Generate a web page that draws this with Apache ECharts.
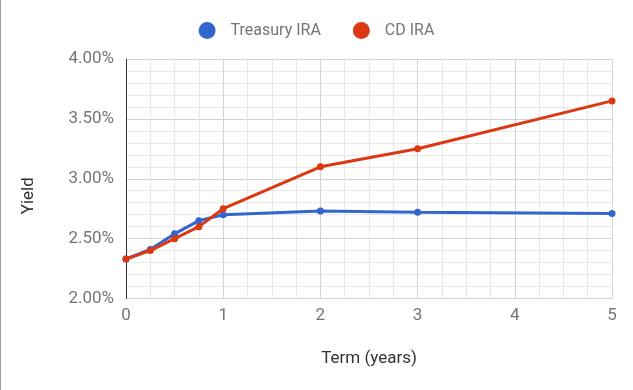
<!DOCTYPE html>
<html>
<head>
<meta charset="utf-8">
<script src="https://cdn.jsdelivr.net/npm/echarts@6/dist/echarts.min.js"></script>
<style>
html,body{margin:0;padding:0;background:#fff;}
#chart{width:633px;height:390px;}
</style>
</head>
<body>
<div id="chart"></div>
<script>
var terms = [0, 0.25, 0.5, 0.75, 1, 2, 3, 5];
var treasuryIRA = [2.33, 2.41, 2.54, 2.65, 2.70, 2.73, 2.72, 2.71];
var cdIRA = [2.33, 2.40, 2.50, 2.60, 2.75, 3.10, 3.25, 3.65];
var seriesNames = ['Treasury IRA', 'CD IRA'];
var xTitle = 'Term (years)';
var yTitle = 'Yield';

function pairs(xs, ys) { return xs.map(function (x, i) { return [x, ys[i]]; }); }

var chart = echarts.init(document.getElementById('chart'), null, {renderer: 'canvas'});
var font = 'Roboto, "Noto Sans", sans-serif';
chart.setOption({
  animation: false,
  color: ['#3366cc', '#dc3912'],
  textStyle: {fontFamily: font},
  graphic: [{
    type: 'line', shape: {x1: 0.5, y1: 0, x2: 0.5, y2: 390},
    style: {stroke: '#9e9e9e', lineWidth: 1}, silent: true
  }],
  legend: {
    top: 17, left: 'center',
    icon: 'circle', itemWidth: 17, itemHeight: 17, itemGap: 32,
    textStyle: {fontSize: 16, color: '#757575', fontFamily: font, padding: [0, 0, 0, 10]},
    data: seriesNames
  },
  grid: {left: 126, right: 21, top: 59, bottom: 91.5, containLabel: false},
  xAxis: {
    type: 'value', min: 0, max: 5, interval: 1,
    name: xTitle, nameLocation: 'middle', nameGap: 52,
    nameTextStyle: {fontSize: 17, color: '#333', fontFamily: font},
    axisLine: {show: false},
    axisTick: {show: false},
    axisLabel: {fontSize: 17, color: '#757575', margin: 9, fontFamily: font},
    splitLine: {show: true, lineStyle: {color: '#d4d4d4', width: 1}},
    minorTick: {show: false, splitNumber: 4},
    minorSplitLine: {show: true, lineStyle: {color: '#e8e8e8', width: 1}}
  },
  yAxis: {
    type: 'value', min: 2, max: 4, interval: 0.5,
    name: yTitle, nameLocation: 'middle', nameGap: 89, nameRotate: 90,
    nameTextStyle: {fontSize: 17, color: '#333', fontFamily: font, padding: [0, 34, 0, 0]},
    axisLine: {show: true, onZero: false, lineStyle: {color: '#333', width: 1}},
    axisTick: {show: false},
    axisLabel: {fontSize: 17, color: '#757575', margin: 12, fontFamily: font,
      formatter: function (v) { return v.toFixed(2) + '%'; }},
    splitLine: {show: true, lineStyle: {color: '#d4d4d4', width: 1}},
    minorTick: {show: false, splitNumber: 5},
    minorSplitLine: {show: true, lineStyle: {color: '#e8e8e8', width: 1}}
  },
  series: [
    {name: seriesNames[0], type: 'line', data: pairs(terms, treasuryIRA),
     symbol: 'circle', symbolSize: 7, lineStyle: {width: 3}, z: 3},
    {name: seriesNames[1], type: 'line', data: pairs(terms, cdIRA),
     symbol: 'circle', symbolSize: 7, lineStyle: {width: 3}, z: 4}
  ]
});
</script>
</body>
</html>
